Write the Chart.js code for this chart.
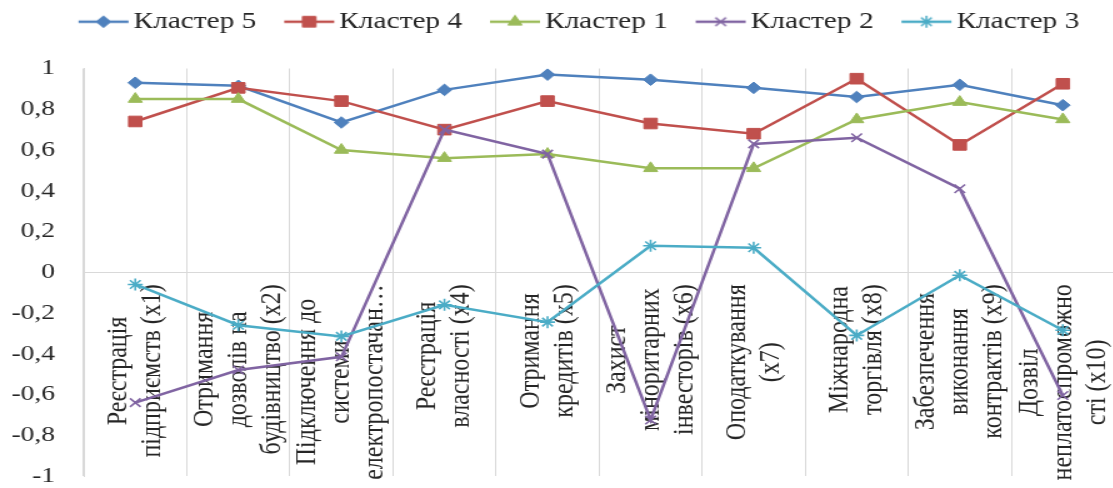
<!DOCTYPE html>
<html><head><meta charset="utf-8">
<script src="https://cdn.jsdelivr.net/npm/chart.js@4/dist/chart.umd.min.js"></script>
<style>
html,body{margin:0;padding:0;overflow:hidden;background:#fff;width:1113px;height:488px}
#wrap{position:absolute;left:0;top:0;width:900px;height:488px;transform:scaleX(1.25);transform-origin:0 0}
</style></head><body>
<div id="wrap"><canvas id="c" width="900" height="488"></canvas></div>
<script>
// ---- data ----
const categoryLines = [
  ['Реєстрація', 'підприємств (x1)'],
  ['Отримання', 'дозволів на', 'будівництво (x2)'],
  ['Підключення до', 'системи', 'електропостачан…'],
  ['Реєстрація', 'власності (x4)'],
  ['Отримання', 'кредитів (x5)'],
  ['Захист', 'міноритарних', 'інвесторів (x6)'],
  ['Оподаткування', '(x7)'],
  ['Міжнародна', 'торгівля (x8)'],
  ['Забезпечення', 'виконання', 'контрактів (x9)'],
  ['Дозвіл', 'неплатоспроможно', 'сті (x10)']
];
const categories = categoryLines.map(l => l.join(' '));
const seriesNames = ['Кластер 5', 'Кластер 4', 'Кластер 1', 'Кластер 2', 'Кластер 3'];
const cluster5 = [0.93, 0.915, 0.735, 0.895, 0.97, 0.945, 0.905, 0.86, 0.92, 0.82];
const cluster4 = [0.74, 0.905, 0.84, 0.70, 0.84, 0.73, 0.68, 0.95, 0.625, 0.925];
const cluster1 = [0.85, 0.85, 0.60, 0.56, 0.58, 0.51, 0.51, 0.75, 0.835, 0.75];
const cluster2 = [-0.64, -0.48, -0.415, 0.70, 0.58, -0.725, 0.63, 0.66, 0.41, -0.605];
const cluster3 = [-0.06, -0.26, -0.315, -0.16, -0.245, 0.13, 0.12, -0.31, -0.015, -0.285];
const yTickValues = [1, 0.8, 0.6, 0.4, 0.2, 0, -0.2, -0.4, -0.6, -0.8, -1];
const yTickLabels = ['1', '0,8', '0,6', '0,4', '0,2', '0', '-0,2', '-0,4', '-0,6', '-0,8', '-1'];

// ---- styles ----
const seriesData = [cluster5, cluster4, cluster1, cluster2, cluster3];
const colors = ['#4F81BD', '#C0504D', '#9BBB59', '#8064A2', '#4BACC6'];
const markers = ['rectRot', 'rect', 'triangle', 'crossRot', 'star'];
const radii = [5.8, 7.5, 6.5, 6, 6];
const pbw = [1, 1, 1, 1.6, 1.6];
const FONT = 'Liberation Serif';
Chart.defaults.font.family = FONT;

function makeIcon(i) {
  const c = document.createElement('canvas');
  c.width = 80; c.height = 20;
  const g = c.getContext('2d');
  g.strokeStyle = colors[i]; g.fillStyle = colors[i];
  g.lineWidth = 2.5;
  g.beginPath(); g.moveTo(35, 10); g.lineTo(75, 10); g.stroke();
  g.lineWidth = pbw[i];
  Chart.helpers.drawPoint(g, {pointStyle: markers[i], radius: radii[i], borderWidth: pbw[i], rotation: 0}, 55, 10);
  return c;
}

const legendGap = {
  id: 'legendGap',
  beforeLayout(chart) {
    const lg = chart.legend;
    if (lg && !lg._gapPatched) {
      const f = lg.fit.bind(lg);
      lg.fit = function () { f(); this.height += 25; };
      lg._gapPatched = true;
    }
  }
};

const catLabelPlugin = {
  id: 'catLabels',
  beforeDatasetsDraw(chart) {
    const ctx = chart.ctx, xs = chart.scales.x, ys = chart.scales.y;
    ctx.save();
    ctx.font = '24px "' + FONT + '"';
    ctx.fillStyle = '#262626';
    ctx.textAlign = 'center';
    ctx.textBaseline = 'middle';
    const top = ys.getPixelForValue(0) + 12;
    const lh = 27;
    categoryLines.forEach((lines, i) => {
      const x = xs.getPixelForValue(i);
      const maxW = Math.max(...lines.map(t => ctx.measureText(t).width));
      const cy = top + maxW / 2;
      lines.forEach((t, j) => {
        ctx.save();
        ctx.translate(x + (j - (lines.length - 1) / 2) * lh, cy);
        ctx.rotate(-Math.PI / 2);
        ctx.fillText(t, 0, 0);
        ctx.restore();
      });
    });
    ctx.restore();
  }
};

new Chart(document.getElementById('c'), {
  type: 'line',
  data: {
    labels: categories,
    datasets: seriesNames.map((name, i) => ({
      label: name,
      data: seriesData[i],
      order: 5 - i,
      borderColor: colors[i],
      backgroundColor: colors[i],
      borderWidth: 2.5,
      pointStyle: markers[i],
      pointRadius: radii[i],
      pointHoverRadius: radii[i],
      pointBackgroundColor: colors[i],
      pointBorderColor: colors[i],
      pointBorderWidth: pbw[i],
      tension: 0,
      fill: false
    }))
  },
  options: {
    responsive: false,
    animation: false,
    layout: {padding: {left: 8, right: 4, top: 10, bottom: 0}},
    plugins: {
      tooltip: {enabled: false},
      legend: {
        position: 'top',
        labels: {
          usePointStyle: true,
          pointStyleWidth: 54.5,
          padding: 0,
          color: '#262626',
          font: {family: FONT, size: 23.5},
          sort: (a, b) => a.datasetIndex - b.datasetIndex,
          generateLabels(chart) {
            return chart.data.datasets.map((ds, i) => ({
              text: ds.label, datasetIndex: i, pointStyle: makeIcon(i),
              fillStyle: colors[i], strokeStyle: colors[i], lineWidth: 0, hidden: false, fontColor: '#262626'
            }));
          }
        }
      }
    },
    scales: {
      x: {
        offset: true,
        grid: {offset: true, color: '#d9d9d9', drawTicks: false},
        ticks: {display: false},
        border: {display: false},
        afterFit(s) { s.height = 0; }
      },
      y: {
        min: -1, max: 1,
        afterBuildTicks(s) { s.ticks = yTickValues.map(v => ({value: v})); },
        afterFit(s) { s.width = 59; s.paddingTop = 13; s.paddingBottom = 12; },
        ticks: {
          callback: v => yTickLabels[yTickValues.indexOf(v)],
          font: {family: FONT, size: 22},
          color: '#262626',
          padding: 23
        },
        grid: {color: c => (c.tick && c.tick.value === 0) ? '#d9d9d9' : 'rgba(0,0,0,0)', drawTicks: false},
        border: {display: true, color: '#d9d9d9'}
      }
    }
  },
  plugins: [legendGap, catLabelPlugin]
});
</script>
</body></html>
